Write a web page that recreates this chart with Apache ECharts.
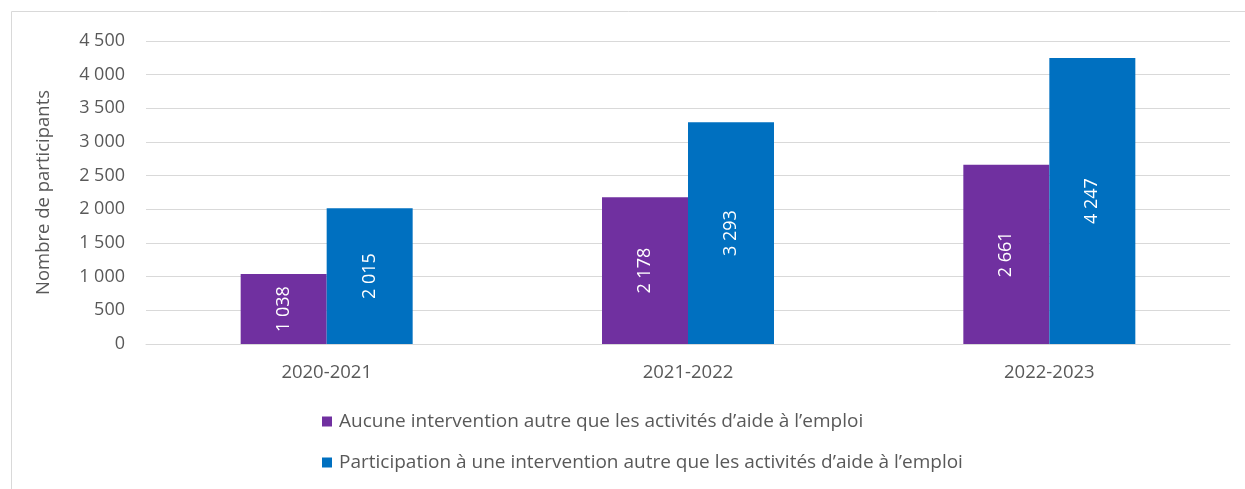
<!DOCTYPE html>
<html>
  <head>
    <meta charset="utf-8" />
    <title>Participants</title>
    <script src="https://cdn.jsdelivr.net/npm/echarts/dist/echarts.min.js"></script>
    <style>
      body { margin: 0; background: #fff; }
    </style>
  </head>
  <body>
    <div id="main" style="width: 1245px; height: 489px;"></div>
    <script type="text/javascript">
      var annees = ['2020-2021', '2021-2022', '2022-2023'];
      var aucune = [1038, 2178, 2661];
      var participation = [2015, 3293, 4247];
      var nomsSeries = [
        'Aucune intervention autre que les activités d\u2019aide à l\u2019emploi',
        'Participation à une intervention autre que les activités d\u2019aide à l\u2019emploi'
      ];

      function espace(v) {
        return String(v).replace(/\B(?=(\d{3})+(?!\d))/g, ' ');
      }

      var police = '"Open Sans", sans-serif';
      var myChart = echarts.init(document.getElementById('main'));

      var etiquette = {
        show: true,
        position: 'inside',
        rotate: 90,
        color: '#fff',
        fontSize: 18,
        fontFamily: police,
        formatter: function (p) { return espace(p.value); }
      };

      var option = {
        animation: false,
        textStyle: { fontFamily: police },
        graphic: [
          {
            type: 'rect',
            shape: { x: 11.5, y: 11.5, width: 1260, height: 500 },
            style: { fill: 'none', stroke: '#d9d9d9', lineWidth: 1 }
          }
        ],
        grid: { left: 146, right: 15, top: 41, bottom: 145 },
        legend: {
          orient: 'vertical',
          left: 317,
          top: 407,
          itemWidth: 10,
          itemHeight: 10,
          itemGap: 22,
          icon: 'rect',
          textStyle: { color: '#595959', fontSize: 19, fontFamily: police, padding: [0, 0, 0, 2] },
          data: nomsSeries
        },
        xAxis: {
          type: 'category',
          data: annees,
          axisLine: { lineStyle: { color: '#d9d9d9', width: 1 } },
          axisTick: { show: false },
          axisLabel: { color: '#595959', fontSize: 18.5, margin: 19 }
        },
        yAxis: {
          type: 'value',
          min: 0,
          max: 4500,
          interval: 500,
          name: 'Nombre de participants',
          nameLocation: 'middle',
          nameGap: 93,
          nameTextStyle: { color: '#595959', fontSize: 18.5 },
          axisLabel: { color: '#595959', fontSize: 18, margin: 21, formatter: espace },
          splitLine: { lineStyle: { color: '#d9d9d9', width: 1 } }
        },
        series: [
          {
            name: nomsSeries[0],
            type: 'bar',
            data: aucune,
            barWidth: '23.8%',
            barGap: '0%',
            itemStyle: { color: '#7030a0' },
            label: etiquette
          },
          {
            name: nomsSeries[1],
            type: 'bar',
            data: participation,
            barWidth: '23.8%',
            itemStyle: { color: '#0070c0' },
            label: etiquette
          }
        ]
      };

      myChart.setOption(option);
    </script>
  </body>
</html>
